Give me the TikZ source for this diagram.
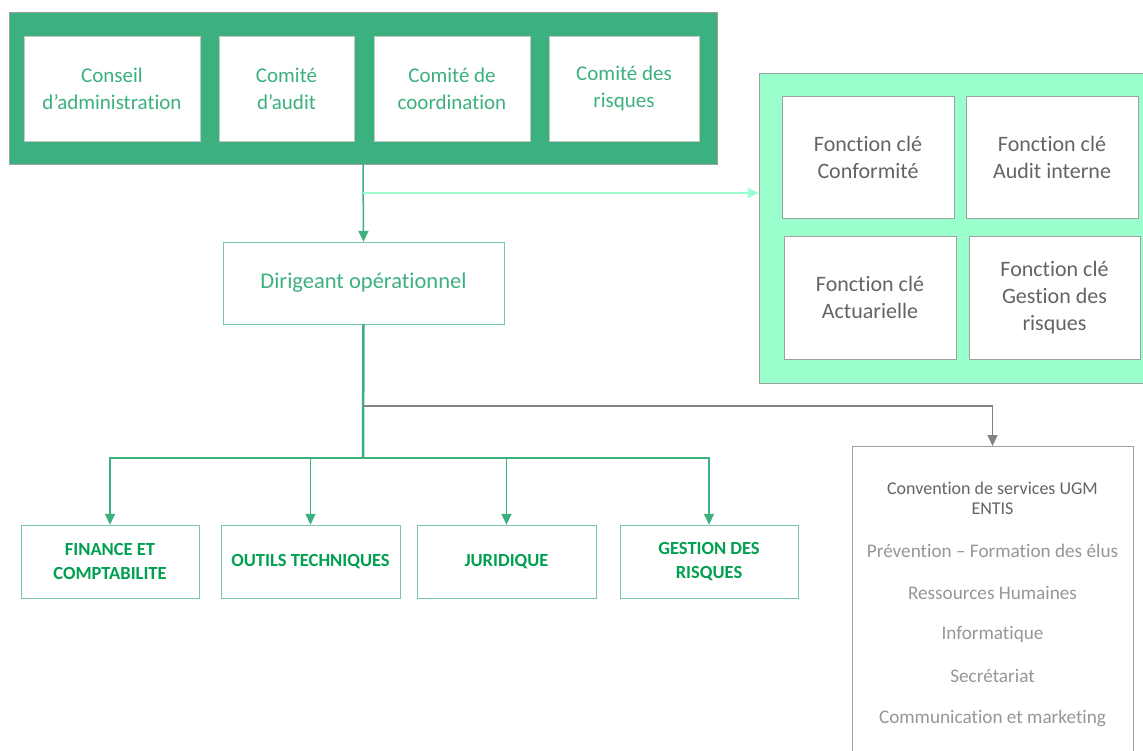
\documentclass[tikz,border=0pt]{standalone}
\usepackage{fontspec}
\setmainfont{Carlito}[Ligatures=NoCommon]
\usetikzlibrary{arrows.meta,calc}

\definecolor{boardgreen}{RGB}{60,176,127}
\definecolor{keygreen}{RGB}{153,255,204}
\definecolor{unitgreen}{RGB}{0,160,80}
\definecolor{boxgray}{RGB}{160,160,160}
\definecolor{textgray}{RGB}{100,100,100}
\definecolor{itemgray}{RGB}{150,150,150}

\tikzset{
  board/.style={draw=boxgray, fill=boardgreen, minimum width=708pt, minimum height=152pt},
  cttee/.style={draw=boxgray!60, fill=white, text=boardgreen, align=center, minimum height=105pt,
    font=\fontsize{21}{27}\selectfont},
  keyfn/.style={draw=boxgray, fill=keygreen},
  keybox/.style={draw=boxgray, fill=white, text=textgray, align=center, minimum width=172pt,
    minimum height=122pt, font=\fontsize{22}{27}\selectfont},
  unit/.style={draw=boardgreen!70, fill=white, text=unitgreen, align=center, minimum width=178pt,
    minimum height=73pt, font=\fontsize{18.5}{24}\selectfont\bfseries},
  tip/.style={-{Triangle[width=10pt,length=11pt]}}
}

\begin{document}
\begin{tikzpicture}[x=1pt, y=-1pt, inner sep=0pt]
  \useasboundingbox (0,0) rectangle (1143,751);
  \clip (0,0) rectangle (1143,751);

  % instances
  \node[board] (brd) at (363,88) {};
  \node[cttee, minimum width=176pt] (ca) at (112,88.5) {Conseil\\d’administration};
  \node[cttee, minimum width=135pt] (aud) at (286.5,88.5) {Comité\\d’audit};
  \node[cttee, minimum width=156pt] (coo) at (452,88.5) {Comité de\\coordination};
  \node[cttee, minimum width=150pt] (rsk) at (624,88.5) {Comité des\\risques};

  \node[draw=boardgreen!70, text=boardgreen, minimum width=281pt, minimum height=82pt,
    font=\fontsize{22.5}{27}\selectfont] (dir) at (363.5,283) {Dirigeant opérationnel};

  % fonctions cles
  \node[keyfn, minimum width=395pt, minimum height=310pt] (kf) at (956.5,228) {};
  \node[keybox] (conf) at (868,157) {Fonction clé\\Conformité};
  \node[keybox] (audi) at (1052,157) {Fonction clé\\Audit interne};
  \node[keybox, minimum height=123pt] (actu) at (870,297.5) {Fonction clé\\Actuarielle};
  \node[keybox, minimum width=171pt, minimum height=123pt] (gest) at (1054.5,297.5) {Fonction clé\\Gestion des\\risques};

  % services
  \node[unit] (fin) at (110,561.5) {FINANCE ET\\COMPTABILITE};
  \node[unit, minimum width=179pt] (out) at (310.5,561.5) {OUTILS TECHNIQUES};
  \node[unit, minimum width=179pt] (jur) at (506.5,561.5) {JURIDIQUE};
  \node[unit] (ges) at (709,561.5) {GESTION DES\\RISQUES};

  \node[draw=boxgray, minimum width=281pt, minimum height=330pt, anchor=north] (srv) at (992.5,446) {};
  \node[text=textgray, align=center, font=\fontsize{18}{20}\selectfont] (srvh) at (992.5,498)
    {Convention de services UGM\\ENTIS};
  \foreach \txt [count=\i] in {Prévention – Formation des élus, Ressources Humaines,
      Informatique, Secrétariat, Communication et marketing}
    \node[text=itemgray, font=\fontsize{19.2}{20}\selectfont] (srv\i) at (992.5,509+41.8*\i) {\txt};

  % liens
  \coordinate (br) at (363,193);
  \coordinate (sp) at (363,406);
  \coordinate (hub) at (363,458);
  \draw[boardgreen, line width=1.5pt, tip] (brd.south) -- (dir.north);
  \draw[keygreen, line width=1.5pt, tip] (br) -- (br -| kf.west);
  \draw[boardgreen, line width=2.5pt] (dir.south) -- (hub);
  \draw[textgray!80, line width=1.5pt, tip] (sp) -| (srv.north);
  \foreach \n in {fin,out,jur,ges}
    \draw[boardgreen, line width=1.5pt, tip] (hub) -| (\n.north);
\end{tikzpicture}
\end{document}
